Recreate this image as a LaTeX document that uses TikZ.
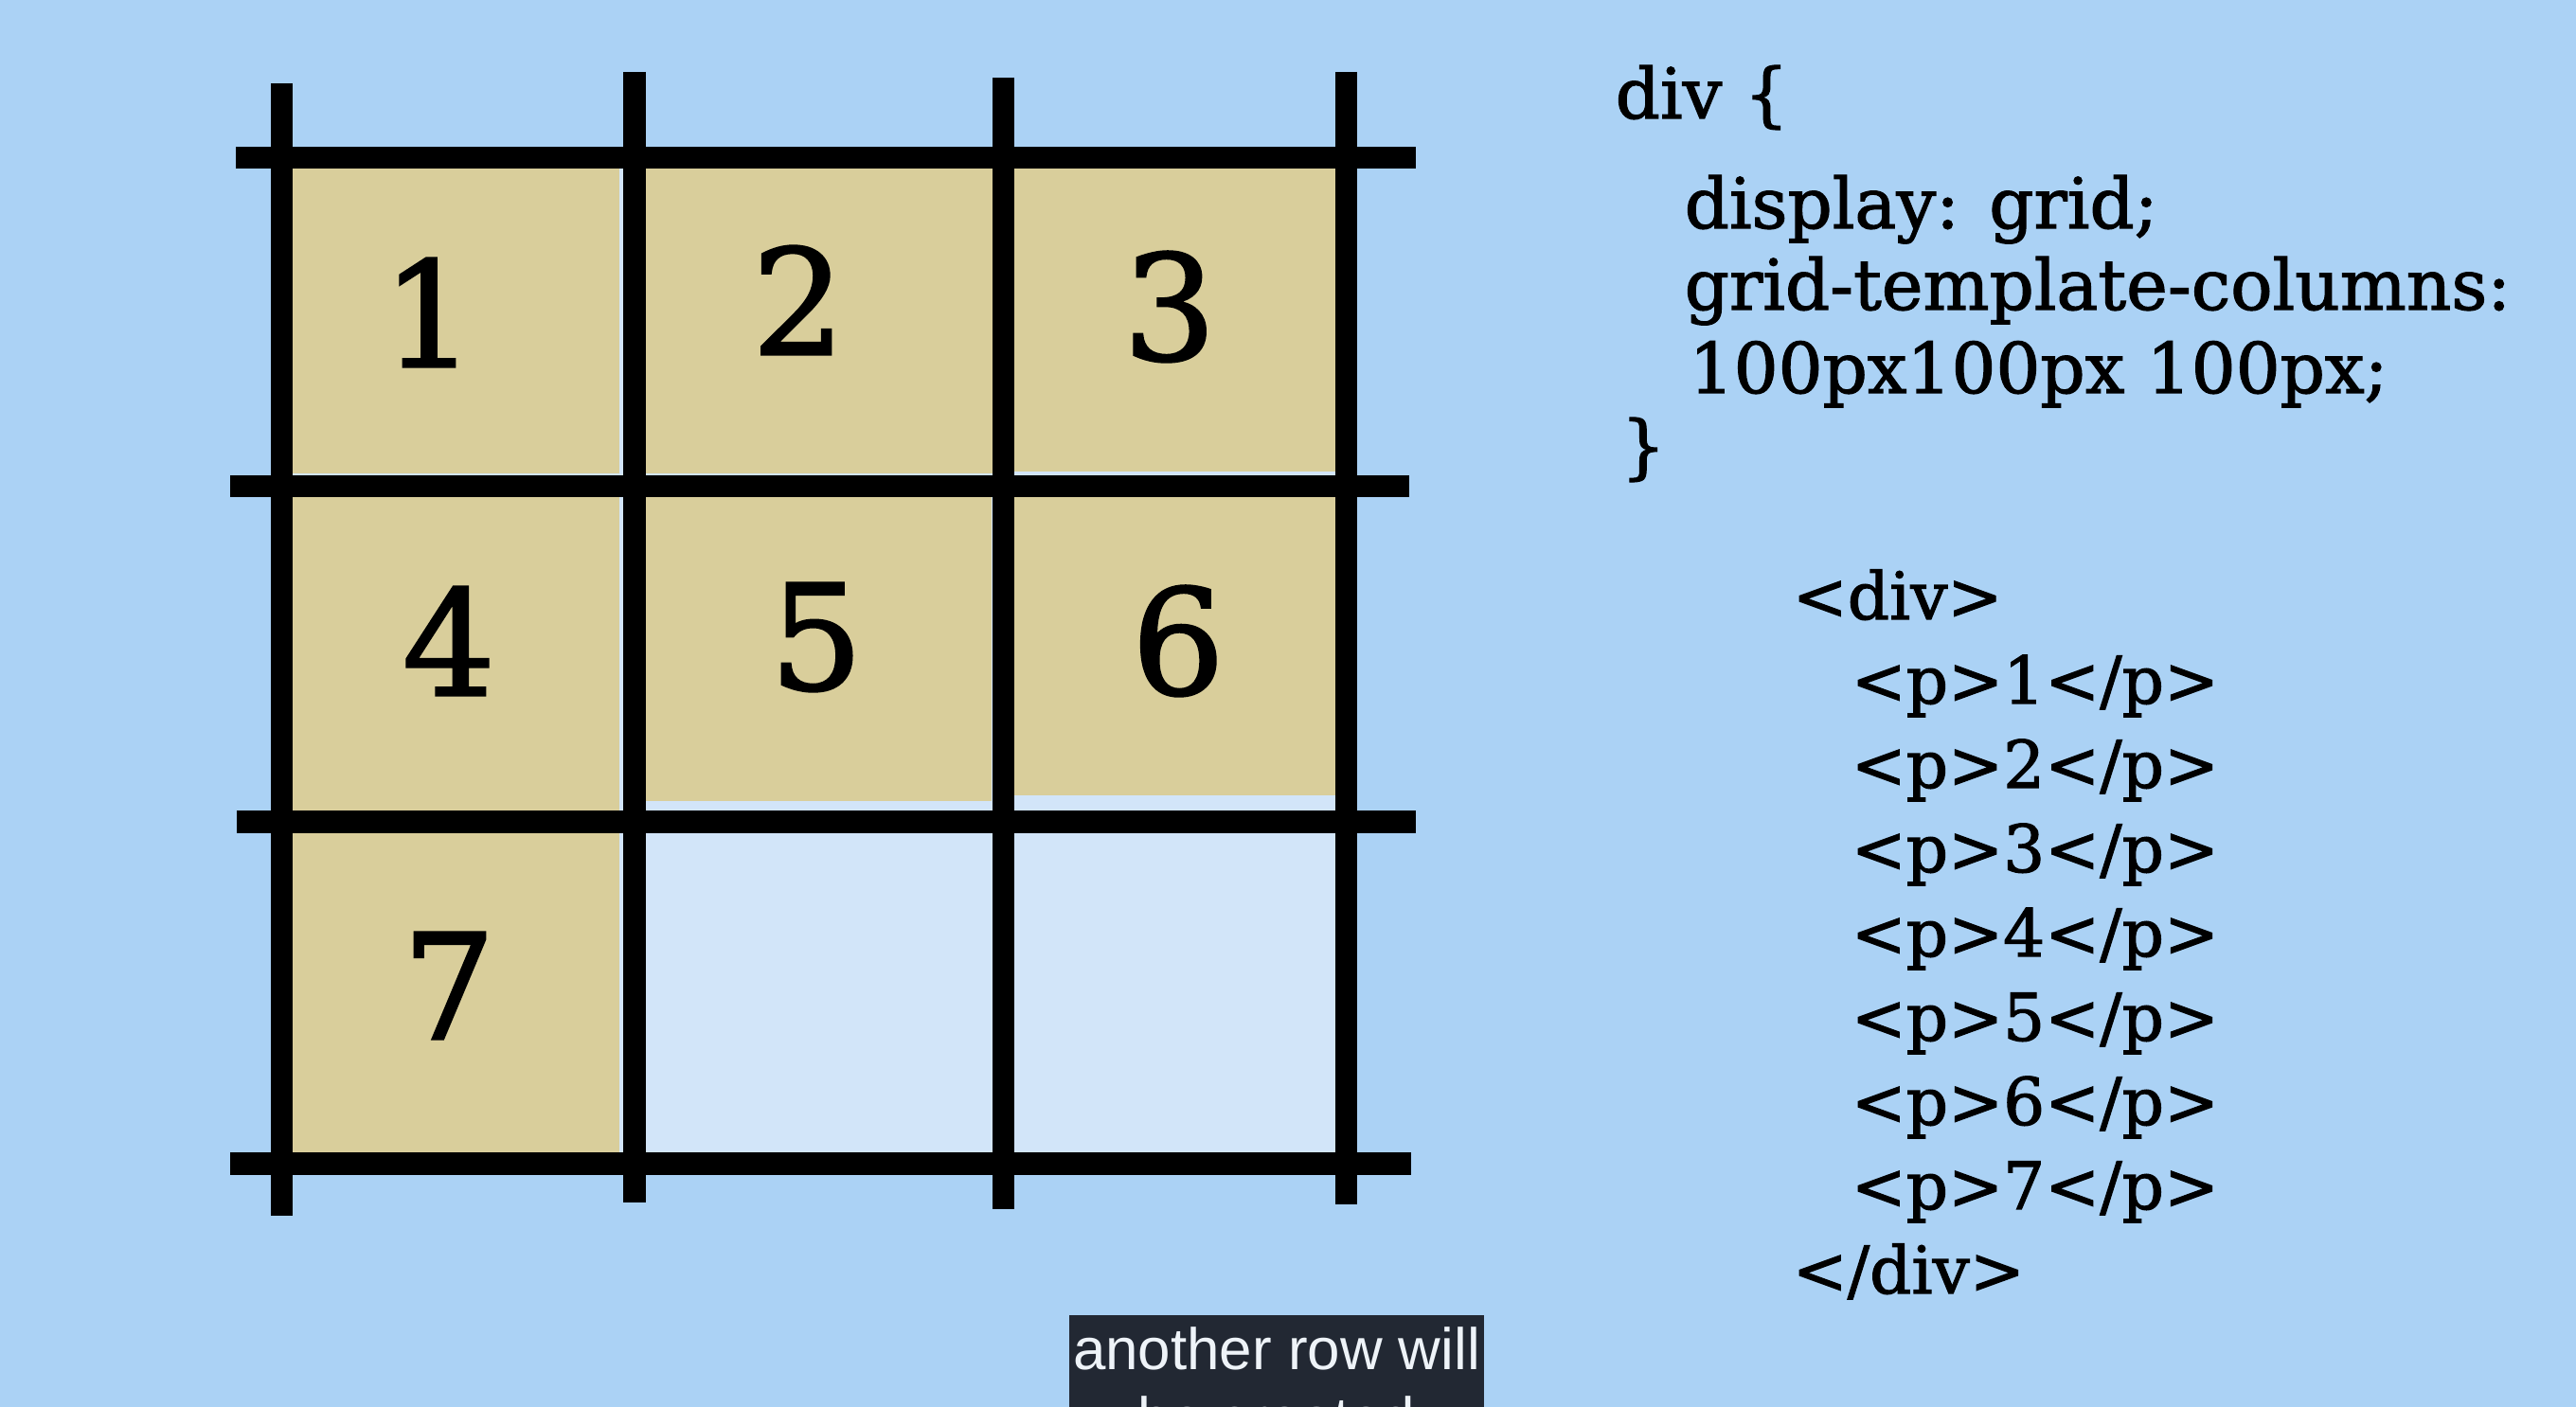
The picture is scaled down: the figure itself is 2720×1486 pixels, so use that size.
\documentclass[tikz,border=0pt]{standalone}
\usepackage{fontspec}
\setmainfont{DejaVu Serif}[UprightFeatures={FakeBold=1.6}]
\newfontfamily\subfont{Liberation Sans}
\definecolor{bgblue}{RGB}{171,210,245}
\definecolor{lightcell}{RGB}{210,229,249}
\definecolor{tancell}{RGB}{217,206,155}
\definecolor{subbg}{RGB}{34,40,51}
\definecolor{subtext}{RGB}{238,243,248}
\begin{document}
\begin{tikzpicture}[x=0.01cm,y=-0.01cm,
  gridline/.style={line width=0.23cm, black, line cap=butt},
  tan/.style={fill=tancell},
  digit/.style={inner sep=0pt, anchor=center, font=\fontsize{44pt}{50pt}\selectfont},
  css/.style={inner sep=0pt, anchor=base west, font=\fontsize{21pt}{25pt}\selectfont},
  html/.style={inner sep=0pt, anchor=base west, font=\fontsize{19.7pt}{23pt}\selectfont},
  subline/.style={inner sep=0pt, anchor=base, text=subtext, font=\subfont\fontsize{17.6pt}{21pt}\selectfont}]
\useasboundingbox (0,0) rectangle (2720,1486);
\fill[bgblue] (0,0) rectangle (2720,1486);
% grid area
\fill[lightcell] (297,167) rectangle (1421,1229);
% filled cells
\fill[tan] (305,176) rectangle (654,500);
\fill[tan] (680,176) rectangle (1050,500);
\fill[tan] (1068,176) rectangle (1416,498);
\fill[tan] (305,524) rectangle (654,857);
\fill[tan] (680,524) rectangle (1047,846);
\fill[tan] (1068,524) rectangle (1412,840);
\fill[tan] (305,878) rectangle (654,1219);
% grid line end points
\coordinate (v1t) at (297.5,88);  \coordinate (v1b) at (297.5,1284);
\coordinate (v2t) at (670,76);    \coordinate (v2b) at (670,1270);
\coordinate (v3t) at (1059,82);   \coordinate (v3b) at (1059,1277);
\coordinate (v4t) at (1421,76);   \coordinate (v4b) at (1421,1272);
\coordinate (h1l) at (249,167);   \coordinate (h1r) at (1495,167);
\coordinate (h2l) at (243,514);   \coordinate (h2r) at (1488,514);
\coordinate (h3l) at (250,868);   \coordinate (h3r) at (1495,868);
\coordinate (h4l) at (243,1229);  \coordinate (h4r) at (1490,1229);
\draw[gridline] (h1l) -- (h1r);
\draw[gridline] (h2l) -- (h2r);
\draw[gridline] (h3l) -- (h3r);
\draw[gridline] (h4l) -- (h4r);
\draw[gridline] (v1t) -- (v1b);
\draw[gridline] (v2t) -- (v2b);
\draw[gridline] (v3t) -- (v3b);
\draw[gridline] (v4t) -- (v4b);
% digits
\node[digit] (n1) at (453,330) {1};
\node[digit] (n2) at (843,317) {2};
\node[digit] (n3) at (1235,324) {3};
\node[digit] (n4) at (474,677) {4};
\node[digit] (n5) at (862,673) {5};
\node[digit] (n6) at (1244,677) {6};
\node[digit] (n7) at (474,1041) {7};
% CSS
\node[css] (c1) at (1705,125) {div \{};
\node[css] (c2) at (1778,241) {display: grid;};
\node[css] (c3) at (1778,327) {grid-template-columns:};
\node[css] (c4) at (1783,415) {100px100px 100px;};
\node[css] (c5) at (1711,497) {\}};
% HTML
\node[html] (d0) at (1892,654) {<div>};
\node[html] (p1) at (1954,743) {<p>1</p>};
\node[html] (p2) at (1954,832) {<p>2</p>};
\node[html] (p3) at (1954,921) {<p>3</p>};
\node[html] (p4) at (1954,1010) {<p>4</p>};
\node[html] (p5) at (1954,1099) {<p>5</p>};
\node[html] (p6) at (1954,1188) {<p>6</p>};
\node[html] (p7) at (1954,1277) {<p>7</p>};
\node[html] (d1) at (1892,1366) {</div>};
% subtitle
\begin{scope}
\clip (0,0) rectangle (2720,1486);
\fill[subbg] (1129,1389) rectangle (1567,1540);
\node[subline] (s1) at (1348,1447) {another row will};
\node[subline] (s2) at (1348,1519) {be created};
\end{scope}
\end{tikzpicture}
\end{document}
